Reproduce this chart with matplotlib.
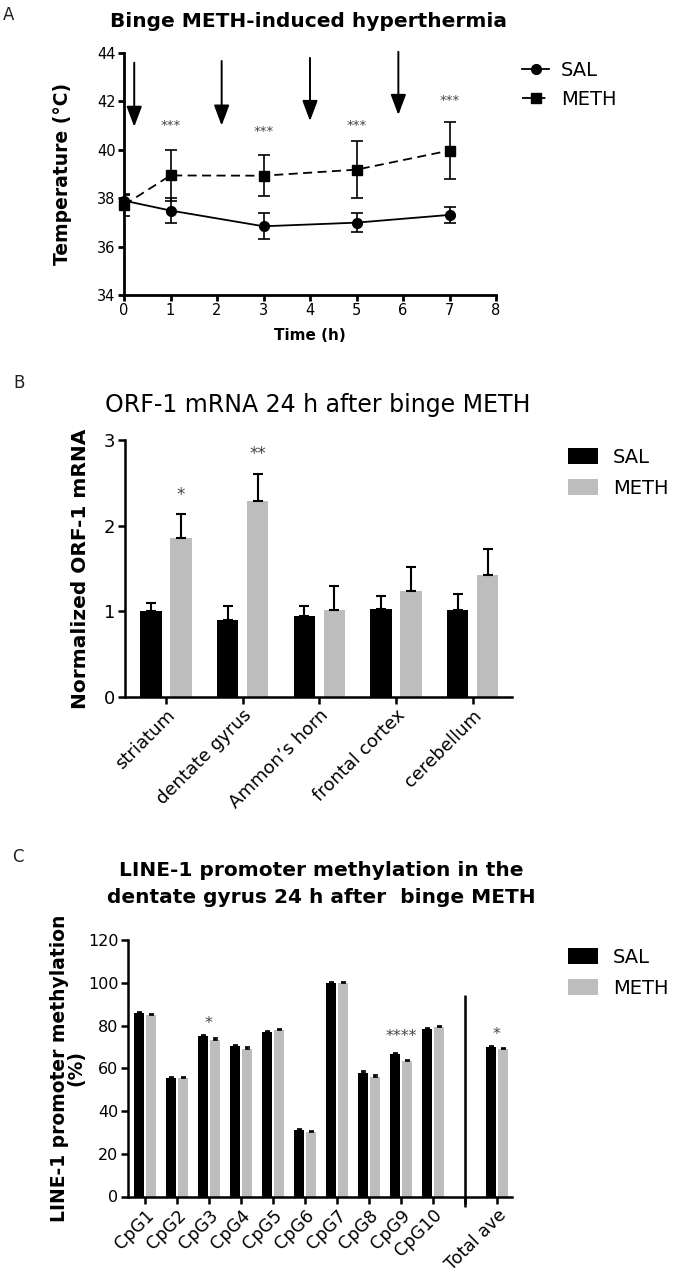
import matplotlib
matplotlib.use("Agg")
import matplotlib.pyplot as plt

# ---------------- DATA ----------------

# panel A: body temperature
hours = [0, 1, 3, 5, 7]
sal_temp = [37.90, 37.49, 36.84, 36.99, 37.31]
sal_temp_err = [0.25, 0.50, 0.53, 0.38, 0.33]
meth_temp = [37.72, 38.94, 38.93, 39.18, 39.97]
meth_temp_err = [0.45, 1.05, 0.85, 1.17, 1.18]
injection_h = [0.22, 2.10, 4.00, 5.90]
arrow_top = [43.60, 43.67, 43.80, 44.05]
arrow_tip = [40.95, 41.00, 41.19, 41.44]
stars_a_x = [1, 3, 5, 7]
stars_a_y = [41.16, 40.90, 41.16, 42.17]
stars_a_txt = ["***", "***", "***", "***"]

# panel B: ORF-1 mRNA
regions = ["striatum", "dentate gyrus", "Ammon\u2019s horn", "frontal cortex", "cerebellum"]
sal_orf = [1.00, 0.90, 0.94, 1.03, 1.01]
sal_orf_err = [0.09, 0.16, 0.12, 0.15, 0.19]
meth_orf = [1.85, 2.29, 1.01, 1.24, 1.42]
meth_orf_err = [0.29, 0.31, 0.28, 0.27, 0.31]
stars_b_idx = [0, 1]
stars_b_y = [2.40, 2.87]
stars_b_txt = ["*", "**"]

# panel C: LINE-1 promoter methylation
cpg_pos = [0, 1, 2, 3, 4, 5, 6, 7, 8, 9, 11]
tick_pos = [0, 1, 2, 3, 4, 5, 6, 7, 8, 9, 10, 11]
tick_labels = ["CpG1", "CpG2", "CpG3", "CpG4", "CpG5", "CpG6", "CpG7",
               "CpG8", "CpG9", "CpG10", "", "Total ave"]
sal_meth = [85.9, 55.3, 74.9, 70.2, 76.8, 31.3, 100.0, 58.0, 66.8, 78.5, 69.9]
sal_meth_err = [0.4, 0.4, 0.5, 0.5, 0.4, 0.4, 0.3, 0.5, 0.5, 0.4, 0.4]
meth_meth = [85.1, 55.3, 73.4, 69.1, 77.7, 30.3, 99.7, 56.1, 63.2, 79.3, 69.0]
meth_meth_err = [0.5, 0.5, 0.6, 0.7, 0.8, 0.5, 0.5, 0.6, 0.7, 0.6, 0.5]
separator_x = 10
separator_span = (-5, 94.5)
stars_c_x = [2, 8, 11]
stars_c_y = [82.8, 76.8, 77.7]
stars_c_txt = ["*", "****", "*"]

# ---------------- LAYOUT ----------------

W, H = 675, 1282
GRAY = "#bdbdbd"
STAR = "#444444"


def rect(left, right, top, bottom):
    return [left / W, 1 - bottom / H, (right - left) / W, (bottom - top) / H]


def fxy(x, y):
    return x / W, 1 - y / H


def style(ax, lw=1.7, tl=4.5, fs=10):
    for s in ["top", "right"]:
        ax.spines[s].set_visible(False)
    for s in ["left", "bottom"]:
        ax.spines[s].set_linewidth(lw)
    ax.tick_params(direction="out", width=lw, length=tl, labelsize=fs, pad=2)


fig = plt.figure(figsize=(W / 100, H / 100), dpi=100)

# ---------------- PANEL A ----------------
ax = fig.add_axes(rect(124, 496, 53, 295))
style(ax, lw=2.0, tl=4, fs=10.5)
ax.set_xlim(0, 8)
ax.set_ylim(34, 44)
ax.set_xticks(range(0, 9))
ax.set_yticks(range(34, 45, 2))

ax.errorbar(hours, sal_temp, yerr=sal_temp_err, fmt="none", ecolor="k",
            elinewidth=1.2, capsize=4.3, capthick=1.2, zorder=3)
ax.errorbar(hours, meth_temp, yerr=meth_temp_err, fmt="none", ecolor="k",
            elinewidth=1.2, capsize=4.3, capthick=1.2, zorder=3)
h_sal, = ax.plot(hours, sal_temp, "-", color="k", lw=1.3, marker="o",
                 ms=7, label="SAL", zorder=4, clip_on=False)
h_meth, = ax.plot(hours, meth_temp, "--", color="k", lw=1.3, marker="s",
                  ms=6.5, dashes=(5, 3), label="METH", zorder=5, clip_on=False)

for x, y0, y1 in zip(injection_h, arrow_top, arrow_tip):
    ax.annotate("", xy=(x, y1), xytext=(x, y0),
                arrowprops=dict(arrowstyle="-|>,head_length=1.25,head_width=0.47",
                                color="k", lw=1.4, shrinkA=0, shrinkB=0,
                                mutation_scale=10))
for x, y, t in zip(stars_a_x, stars_a_y, stars_a_txt):
    ax.annotate(t, (x, y), xytext=(0, -5), textcoords="offset points",
                ha="center", va="baseline", fontsize=9.5, color=STAR)

ax.set_xlabel("Time (h)", fontsize=11, fontweight="bold", labelpad=7)
ax.set_ylabel("Temperature (\u00b0C)", fontsize=13.5, fontweight="bold", va="center")
ax.yaxis.set_label_coords(-0.164, 0.5)
ax.legend(handles=[h_sal, h_meth], loc="upper left", frameon=False,
          bbox_to_anchor=fxy(522, 61), bbox_transform=fig.transFigure,
          fontsize=14, handlelength=1.4, handletextpad=0.6, labelspacing=0.5,
          borderpad=0, borderaxespad=0, numpoints=1)

fig.text(*fxy(3, 20), "A", fontsize=12, color="#222222", va="baseline")
fig.text(*fxy(309, 27), "Binge METH-induced hyperthermia", fontsize=14.5,
         fontweight="bold", ha="center", va="baseline")

# ---------------- PANEL B ----------------
ax = fig.add_axes(rect(125, 511.7, 440, 696.7))
style(ax, lw=1.8, tl=5, fs=13)
xb = list(range(len(regions)))
off, bw = 0.195, 0.28
b_sal = ax.bar([i - off for i in xb], sal_orf, bw, color="k", label="SAL")
b_meth = ax.bar([i + off for i in xb], meth_orf, bw, color=GRAY, label="METH")
ax.errorbar([i - off for i in xb], sal_orf, yerr=[[0] * len(xb), sal_orf_err],
            fmt="none", ecolor="k", elinewidth=1.5, capsize=3.3, capthick=1.5)
ax.errorbar([i + off for i in xb], meth_orf, yerr=[[0] * len(xb), meth_orf_err],
            fmt="none", ecolor="k", elinewidth=1.5, capsize=3.3, capthick=1.5)
for i, y, t in zip(stars_b_idx, stars_b_y, stars_b_txt):
    ax.annotate(t, (i + off, y), xytext=(0, -6), textcoords="offset points",
                ha="center", va="baseline", fontsize=12, color=STAR)
ax.set_xlim(-0.535, 4.51)
ax.set_ylim(0, 3)
ax.set_yticks([0, 1, 2, 3])
ax.set_xticks(xb)
ax.set_xticklabels(regions, rotation=45, ha="right", rotation_mode="anchor",
                   fontsize=13)
ax.set_ylabel("Normalized ORF-1 mRNA", fontsize=14.5, fontweight="bold", va="center")
ax.yaxis.set_label_coords(-0.116, 0.5)
ax.legend(handles=[b_sal, b_meth], loc="upper left", frameon=False,
          bbox_to_anchor=fxy(568, 448), bbox_transform=fig.transFigure,
          fontsize=14, handlelength=1.55, handleheight=0.9, handletextpad=0.75,
          labelspacing=0.6, borderpad=0, borderaxespad=0)

fig.text(*fxy(13, 388), "B", fontsize=12, color="#222222", va="baseline")
fig.text(*fxy(318, 411.7), "ORF-1 mRNA 24 h after binge METH", fontsize=17,
         ha="center", va="baseline")

# ---------------- PANEL C ----------------
ax = fig.add_axes(rect(128.3, 511.7, 940, 1196.5))
style(ax, lw=1.8, tl=5, fs=11.5)
off, bw = 0.19, 0.33
c_sal = ax.bar([p - off for p in cpg_pos], sal_meth, bw, color="k", label="SAL")
c_meth = ax.bar([p + off for p in cpg_pos], meth_meth, bw, color=GRAY, label="METH")
ax.errorbar([p - off for p in cpg_pos], sal_meth,
            yerr=[[0] * len(cpg_pos), sal_meth_err], fmt="none", ecolor="k",
            elinewidth=1.2, capsize=1.8, capthick=1.2)
ax.errorbar([p + off for p in cpg_pos], meth_meth,
            yerr=[[0] * len(cpg_pos), meth_meth_err], fmt="none", ecolor="k",
            elinewidth=1.2, capsize=1.8, capthick=1.2)
ax.vlines(separator_x, *separator_span, color="k", lw=1.8, clip_on=False)
for x, y, t in zip(stars_c_x, stars_c_y, stars_c_txt):
    ax.annotate(t, (x, y), xytext=(0, -6), textcoords="offset points",
                ha="center", va="baseline", fontsize=11.5, color=STAR)
ax.set_xlim(-0.52, 11.46)
ax.set_ylim(0, 120)
ax.set_yticks(range(0, 121, 20))
ax.set_xticks(tick_pos)
ax.set_xticklabels(tick_labels, rotation=45, ha="right", rotation_mode="anchor",
                   fontsize=12.5)
ax.set_ylabel("LINE-1 promoter methylation\n(%)", fontsize=13.5, fontweight="bold",
              va="center", linespacing=0.85)
ax.yaxis.set_label_coords(-0.158, 0.5)
ax.legend(handles=[c_sal, c_meth], loc="upper left", frameon=False,
          bbox_to_anchor=fxy(568, 948), bbox_transform=fig.transFigure,
          fontsize=14, handlelength=1.55, handleheight=0.9, handletextpad=0.75,
          labelspacing=0.6, borderpad=0, borderaxespad=0)

fig.text(*fxy(12, 862), "C", fontsize=12, color="#222222", va="baseline")
fig.text(*fxy(321, 903), "LINE-1 promoter methylation in the\ndentate gyrus 24 h after  binge METH",
         fontsize=14.5, fontweight="bold", ha="center", va="baseline",
         multialignment="center", linespacing=1.5)

fig.savefig("out.png", dpi=100)
